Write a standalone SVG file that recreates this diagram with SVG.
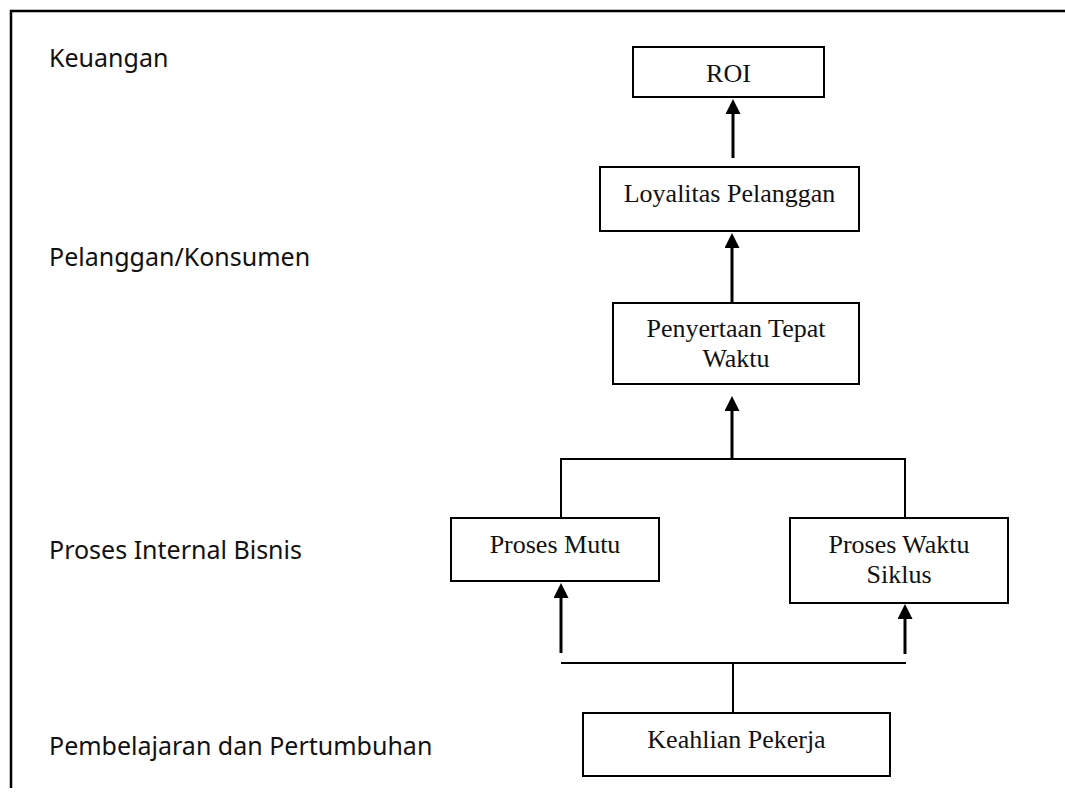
<svg xmlns="http://www.w3.org/2000/svg" width="1065" height="801" viewBox="0 0 1065 801">
<style>
.box{fill:#fff;stroke:#000;stroke-width:2}
.lbl{font-family:"Noto Sans","Open Sans",sans-serif;font-size:25px;fill:#111}
.t{font-family:"Liberation Serif","Times New Roman",serif;font-size:26px;fill:#111;text-anchor:middle}
.ln{fill:none;stroke:#000;stroke-width:2}
.ar{fill:none;stroke:#000;stroke-width:3}
</style>
<defs>
<marker id="ah" viewBox="0 0 15 15" refX="1" refY="7.5" markerWidth="15" markerHeight="15" markerUnits="userSpaceOnUse" orient="auto">
<path d="M0,0 L15,7.5 L0,15 z" fill="#000"/>
</marker>
</defs>
<rect width="1065" height="801" fill="#fff"/>
<path d="M11,788 L11,11 L1065,11" fill="none" stroke="#000" stroke-width="2.5"/>
<g id="labels">
<text class="lbl" x="49" y="67">Keuangan</text>
<text class="lbl" x="49" y="266">Pelanggan/Konsumen</text>
<text class="lbl" x="49" y="559">Proses Internal Bisnis</text>
<text class="lbl" x="49" y="755">Pembelajaran dan Pertumbuhan</text>
</g>
<g id="connectors">
<line class="ar" x1="733" y1="158" x2="733" y2="113" marker-end="url(#ah)"/>
<line class="ar" x1="732" y1="305" x2="732" y2="247" marker-end="url(#ah)"/>
<line class="ar" x1="732" y1="460" x2="732" y2="410" marker-end="url(#ah)"/>
<line class="ar" x1="561" y1="653" x2="561" y2="597" marker-end="url(#ah)"/>
<line class="ar" x1="905" y1="654" x2="905" y2="618" marker-end="url(#ah)"/>
<polyline class="ln" points="561,518 561,459 905,459 905,518"/>
<line class="ln" x1="561" y1="663" x2="906" y2="663"/>
<line class="ln" x1="733" y1="663" x2="733" y2="713"/>
</g>
<g id="roi"><rect class="box" x="633" y="47" width="191" height="50"/><text class="t" x="728.5" y="82">ROI</text></g>
<g id="loyalitas"><rect class="box" x="600" y="167" width="259" height="64"/><text class="t" x="729.5" y="202">Loyalitas Pelanggan</text></g>
<g id="penyertaan"><rect class="box" x="613" y="303" width="246" height="81"/><text class="t" x="736" y="337">Penyertaan Tepat</text><text class="t" x="736" y="367">Waktu</text></g>
<g id="proses-mutu"><rect class="box" x="451" y="518" width="208" height="63"/><text class="t" x="555" y="553">Proses Mutu</text></g>
<g id="proses-waktu"><rect class="box" x="790" y="518" width="218" height="85"/><text class="t" x="899" y="553">Proses Waktu</text><text class="t" x="899" y="583">Siklus</text></g>
<g id="keahlian"><rect class="box" x="583" y="713" width="307" height="63"/><text class="t" x="736.5" y="748">Keahlian Pekerja</text></g>
</svg>
